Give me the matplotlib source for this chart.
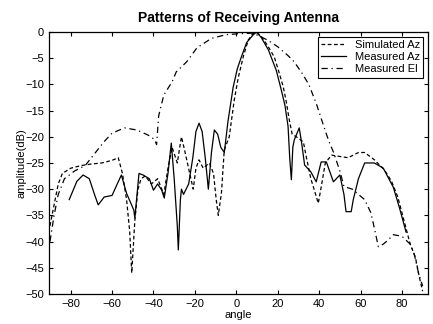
import matplotlib
matplotlib.use('Agg')
import matplotlib.pyplot as plt

plt.rcParams['font.family'] = ['Liberation Sans', 'DejaVu Sans']

# Simulated Az (short dashes)
sim_x = [-90, -88, -86, -84, -80, -75, -70, -65, -60, -57, -55, -53, -51.5, -50.5, -49, -47.5, -46,
         -44, -41, -38, -35, -33, -31, -28.5, -26.5, -25, -22.5, -20.8, -19.5, -18, -16, -13, -11,
         -9.7, -8.7, -7.2, -5.8, -3.4, -1, 1, 3.5, 5.8, 8, 9.7, 12, 15, 18.4, 20.5, 22.7, 24, 25.6,
         27, 29, 32.4, 33.8, 36, 37.7, 39.6, 41, 43, 46, 50.7, 54, 59, 62, 66.7, 71.5, 75, 78, 81,
         84, 86.5, 88.4, 90]
sim_y = [-37, -33, -29, -27, -26, -25.5, -25.2, -25, -24.5, -24, -27, -32, -38, -46, -36, -30, -28,
         -27.5, -29, -28, -31, -26, -22, -25, -20, -22.5, -27, -30, -26, -24.4, -26, -25, -27,
         -32, -35, -30.8, -22.5, -20, -13, -8.6, -4.5, -1.5, -0.3, 0, -0.8, -2.5, -4.8, -7.5, -10.5, -13, -16.8,
         -19.5, -20, -21, -23.8, -28, -30.2, -32.7, -29.6, -25, -23.5, -23.8, -24, -23, -23, -24.4, -26.3, -28.5, -31.5, -36,
         -40.5, -43, -46.8, -49.5]

# Measured Az (solid)
maz_x = [-80.7, -77, -74, -71, -68.5, -66.7, -63.8, -60, -57.5, -55.5, -53, -49.5, -49, -47, -45,
         -42, -40, -38, -36, -34.8, -33, -31.4, -30, -28.5, -28, -27, -26.5, -25.5, -23, -21, -19.5,
         -18, -16.5, -15, -13.5, -12, -10.6, -9, -7.5, -5.8, -4, -1.5, 0.5, 2.4, 5, 8, 9.7, 12, 15.5,
         19.3, 21.7, 23.5, 25, 25.8, 26.6, 27.3, 28, 30.4, 31.5, 33, 36, 38.6, 41, 43.5, 46.9, 50, 52,
         53, 55.5, 56.5, 59, 62, 66.7, 71, 75.8, 78.7, 82]
maz_y = [-32, -28.5, -27.3, -28, -31, -33, -31.5, -31.2, -29, -27.3, -30.8, -34, -35.5, -27, -27.3,
         -28, -30.2, -29, -30.2, -31.7, -27, -21.2, -28, -37, -41.6, -32, -30, -31, -29, -24, -19,
         -17.4, -19, -24, -30, -23, -18.7, -19.5, -22, -23, -17, -10.5, -7, -4.8, -2, -0.6, 0, -1, -3.4,
         -7.3, -11, -14, -18, -24, -28.2, -22, -20.6, -18.3, -21, -25.4, -26.7, -28.6, -24.8, -24.8, -28.6, -27.3, -31,
         -34.3, -34.3, -32, -28, -25, -25, -26, -29.6, -33.4, -38.2]

# Measured El (dash-dot)
mel_x = [-90, -88, -86, -83, -78, -73, -68, -64, -60, -54, -48, -42.5, -39.5, -38.5, -37.5, -35,
         -31, -29, -24, -19, -12, -5, 2, 8, 15, 20, 25, 28, 32, 35, 38.6, 42.5, 44.5, 47, 50, 52,
         56, 62, 65, 67, 68.6, 71, 73.4, 75.8, 80, 84, 86, 88, 90]
mel_y = [-40, -35, -31, -28, -26.5, -25.5, -23, -21, -19.3, -18.3, -18.7, -19.7, -20.5, -21.5, -16, -12,
         -9.5, -7.6, -5.7, -3, -1.2, -0.5, -0.3, -0.2, -1.5, -2.8, -4.5, -5.7, -8, -10, -13.6, -18.3, -20.6, -23, -26.5, -29.5,
         -30, -32, -34.5, -38, -41, -40.5, -39.7, -38.7, -39, -40.5, -42.5, -46, -48.5]

fig = plt.figure(figsize=(4.33, 3.24), dpi=100)
ax = fig.add_axes([0.113, 0.093, 0.875, 0.808])

ax.plot(sim_x, sim_y, color='black', lw=0.9, linestyle=(0, (3, 2)), label='Simulated Az')
ax.plot(maz_x, maz_y, color='black', lw=0.9, linestyle='-', label='Measured Az')
ax.plot(mel_x, mel_y, color='black', lw=0.9, linestyle=(0, (5, 3, 1, 3)), label='Measured El')

ax.set_xlim(-90.5, 92.5)
ax.set_ylim(-50, 0)
ax.set_xticks(range(-80, 81, 20))
ax.set_yticks(range(-50, 1, 5))
ax.tick_params(direction='in', top=True, right=True, labelsize=8, length=3, width=0.8)
for s in ax.spines.values():
    s.set_linewidth(0.9)

ax.set_title('Patterns of Receiving Antenna', fontsize=10, fontweight='bold', pad=7)
ax.set_xlabel('angle', fontsize=8, labelpad=1)
ax.set_ylabel('amplitude(dB)', fontsize=8, labelpad=-1)

leg = ax.legend(loc='upper right', fontsize=8, frameon=True, fancybox=False,
                edgecolor='black', framealpha=1, handlelength=2.2, borderpad=0.3,
                labelspacing=0.2, borderaxespad=0.4)
leg.get_frame().set_linewidth(0.8)

fig.savefig('out.png', dpi=100)
